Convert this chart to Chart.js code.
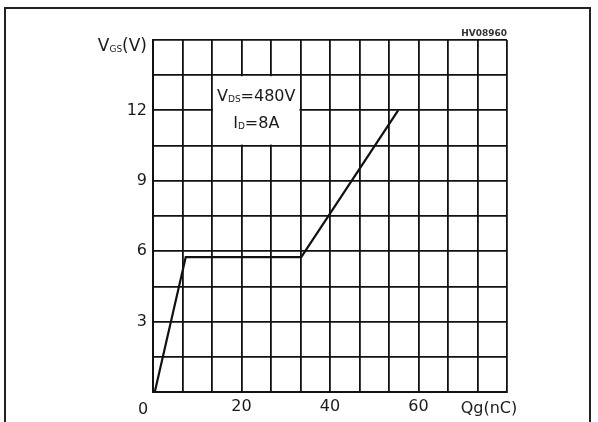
<!DOCTYPE html>
<html>
<head>
<meta charset="utf-8">
<script src="https://cdn.jsdelivr.net/npm/chart.js@4.4.1/dist/chart.umd.min.js"></script>
<style>
  html, body { margin: 0; padding: 0; background: #fff; }
  #wrap { position: relative; width: 598px; height: 422px; overflow: hidden; }
  #frame { position: absolute; left: 4px; top: 7px; width: 587px; height: 440px;
           border: 2px solid #222; box-sizing: border-box; }
  canvas { position: absolute; left: 0; top: 0; }
</style>
</head>
<body>
<div id="wrap">
  <div id="frame"></div>
  <canvas id="c" width="598" height="422"></canvas>
</div>
<script>
// Gate charge curve: gate-source voltage vs. total gate charge
const qgNc = [0.4, 7.4, 33.5, 55.4];
const vgsV = [0, 5.75, 5.75, 12];

// Axis ranges and tick labels
const xRange = [0, 80];
const xStep = 20 / 3;
const xTickLabels = [20, 40, 60];
const yRange = [0, 15];
const yStep = 1.5;
const yTickLabels = [3, 6, 9, 12];

// Test-condition box (Qg and VGS extent)
const noteQg = [40 / 3, 100 / 3];
const noteV = [10.5, 13.5];

const FONT = '"DejaVu Sans", sans-serif';
const INK = '#1a1a1a';

function drawSub(ctx, parts, x, y, align) {
  // parts: [text, size, dy]
  let total = 0;
  parts.forEach(p => { ctx.font = p[1] + 'px ' + FONT; total += ctx.measureText(p[0]).width; });
  let cx = align === 'right' ? x - total : align === 'center' ? x - total / 2 : x;
  ctx.textAlign = 'left';
  ctx.textBaseline = 'alphabetic';
  parts.forEach(p => {
    ctx.font = p[1] + 'px ' + FONT;
    ctx.fillText(p[0], cx, y + (p[2] || 0));
    cx += ctx.measureText(p[0]).width;
  });
}

const extras = {
  id: 'extras',
  beforeDatasetsDraw(chart) {
    const { ctx, scales: { x, y } } = chart;
    // blank out the grid inside the condition box
    const l = x.getPixelForValue(noteQg[0]), r = x.getPixelForValue(noteQg[1]);
    const t = y.getPixelForValue(noteV[1]), b = y.getPixelForValue(noteV[0]);
    ctx.save();
    ctx.fillStyle = '#fff';
    ctx.fillRect(l + 1, t + 1, r - l - 2, b - t - 2);
    ctx.fillStyle = INK;
    const cx = (l + r) / 2;
    drawSub(ctx, [['V', 16], ['DS', 9, 1], ['=480V', 16]], cx, t + 26, 'center');
    drawSub(ctx, [['I', 16], ['D', 9, 1], ['=8A', 16]], cx, t + 53, 'center');
    ctx.restore();
  },
  afterDraw(chart) {
    const { ctx, scales: { x, y }, chartArea } = chart;
    ctx.save();
    ctx.fillStyle = INK;
    // axis titles and origin label
    drawSub(ctx, [['V', 17], ['GS', 9, 1], ['(V)', 17]], chartArea.left - 6, chartArea.top + 11, 'right');
    drawSub(ctx, [['0', 16]], x.getPixelForValue(0) - 10, chartArea.bottom + 22, 'center');
    drawSub(ctx, [['Qg(nC)', 16]], chartArea.right - 18, chartArea.bottom + 21, 'center');
    // drawing reference code
    ctx.font = 'bold 9px ' + FONT;
    ctx.textAlign = 'right';
    ctx.textBaseline = 'alphabetic';
    ctx.fillStyle = '#333';
    ctx.fillText('HV08960', chartArea.right, chartArea.top - 4);
    ctx.restore();
  }
};

new Chart(document.getElementById('c'), {
  type: 'scatter',
  data: {
    datasets: [{
      data: qgNc.map((q, i) => ({ x: q, y: vgsV[i] })),
      showLine: true,
      borderColor: '#111',
      borderWidth: 2.2,
      pointRadius: 0,
      tension: 0
    }]
  },
  options: {
    responsive: false,
    animation: false,
    devicePixelRatio: 1,
    layout: { padding: { left: 0, right: 91, top: 40, bottom: 0 } },
    plugins: { legend: { display: false }, tooltip: { enabled: false } },
    scales: {
      x: {
        type: 'linear',
        min: xRange[0], max: xRange[1],
        afterFit(s) { s.height = 30; },
        afterBuildTicks(s) {
          const t = [];
          for (let i = 0; i <= 12; i++) t.push({ value: i * xStep });
          s.ticks = t;
        },
        ticks: {
          autoSkip: false,
          maxRotation: 0,
          padding: 5,
          color: INK,
          font: { family: FONT, size: 16 },
          callback(v) {
            const r = Math.round(v);
            return (Math.abs(v - r) < 1e-6 && xTickLabels.includes(r)) ? String(r) : '';
          }
        },
        grid: { color: '#111', lineWidth: 1.8, drawTicks: false },
        border: { display: true, color: '#111', width: 2 }
      },
      y: {
        type: 'linear',
        min: yRange[0], max: yRange[1],
        afterFit(s) { s.width = 153; },
        afterBuildTicks(s) {
          const t = [];
          for (let i = 0; i <= 10; i++) t.push({ value: i * yStep });
          s.ticks = t;
        },
        ticks: {
          autoSkip: false,
          padding: 6,
          color: INK,
          font: { family: FONT, size: 16 },
          callback(v) {
            const r = Math.round(v);
            return (Math.abs(v - r) < 1e-6 && yTickLabels.includes(r)) ? String(r) : '';
          }
        },
        grid: { color: '#111', lineWidth: 1.8, drawTicks: false },
        border: { display: true, color: '#111', width: 2 }
      }
    }
  },
  plugins: [extras]
});
</script>
</body>
</html>
